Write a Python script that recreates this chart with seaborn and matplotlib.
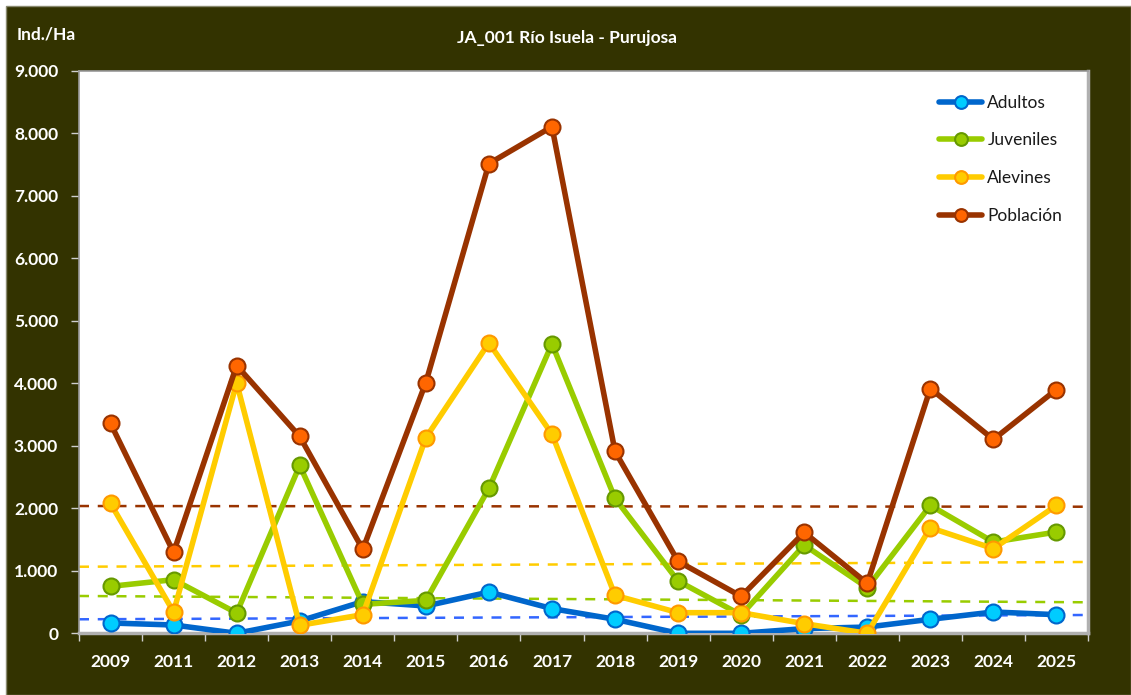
import numpy as np
import pandas as pd
import matplotlib
matplotlib.use("Agg")
import matplotlib.pyplot as plt
import seaborn as sns
from matplotlib.patches import Rectangle
from matplotlib.ticker import FixedLocator

# ── data ────────────────────────────────────────────────────────────────
years = ["2009", "2011", "2012", "2013", "2014", "2015", "2016", "2017",
         "2018", "2019", "2020", "2021", "2022", "2023", "2024", "2025"]

adultos   = [165, 133, 0, 197, 507, 437, 660, 395, 224, 0, 0, 75, 100, 224, 341, 298]
juveniles = [751, 858, 325, 2685, 463, 527, 2318, 4630, 2158, 836, 293, 1412, 730, 2046, 1460, 1620]
alevines  = [2078, 341, 4007, 128, 298, 3128, 4646, 3186, 607, 330, 330, 154, 0, 1689, 1354, 2046]
poblacion = [3357, 1295, 4284, 3149, 1343, 4012, 7513, 8104, 2909, 1151, 591, 1614, 799, 3916, 3101, 3900]

# dashed reference trends (value at left edge, value at right edge)
trend_adultos   = [224, 293]
trend_juveniles = [597, 496]
trend_alevines  = [1065, 1141]
trend_poblacion = [2036, 2025]

yticks = [0, 1000, 2000, 3000, 4000, 5000, 6000, 7000, 8000, 9000]

title = "JA_001 Río Isuela - Purujosa"
ylabel = "Ind./Ha"

BG = "#333300"

series = [
    # name, values, line, face, edge, trend, trend colour
    ("Adultos",   adultos,   "#0066CC", "#00CCFF", "#0066CC", trend_adultos,   "#3366FF"),
    ("Juveniles", juveniles, "#99CC00", "#99CC00", "#669900", trend_juveniles, "#99CC00"),
    ("Alevines",  alevines,  "#FFCC00", "#FFCC00", "#FF9900", trend_alevines,  "#FFCC00"),
    ("Población", poblacion, "#993300", "#FF6600", "#993300", trend_poblacion, "#993300"),
]

sns.set_style("white")
plt.rcParams["font.family"] = ["Lato", "DejaVu Sans"]

fig = plt.figure(figsize=(11.31, 6.95), dpi=100)
fig.patch.set_facecolor("white")
bg = Rectangle((6 / 1131, 0), 1 - 6 / 1131, 1 - 6 / 695,
               transform=fig.transFigure, facecolor=BG,
               edgecolor="#8a8a70", linewidth=1.0, zorder=-10)
fig.add_artist(bg)

ax = fig.add_axes([79 / 1131, 1 - 633.3 / 695, (1088 - 79) / 1131, (633.3 - 70.7) / 695])
ax.set_zorder(1)
ax.set_facecolor("white")

pos = np.arange(len(years))
edges = [pos[0] - 0.5, pos[-1] + 0.5]

# trend lines below the series
for name, vals, lc, fc, ec, trend, tc in series:
    ax.plot(edges, trend, color=tc, linestyle=(0, (4, 3.5)), linewidth=1.8, zorder=1)

for i, (name, vals, lc, fc, ec, trend, tc) in enumerate(series):
    df = pd.DataFrame({"x": pos, "y": vals})
    sns.lineplot(data=df, x="x", y="y", ax=ax, color=lc, linewidth=4,
                 marker="o", markersize=11.5, markerfacecolor=fc,
                 markeredgecolor=ec, markeredgewidth=1.5, label=name,
                 zorder=3 + i)

ax.set_xlim(edges)
ax.set_ylim(0, 9000)

ax.xaxis.set_major_locator(FixedLocator(pos))
ax.set_xticklabels(years)
ax.xaxis.set_minor_locator(FixedLocator(np.append(pos - 0.5, pos[-1] + 0.5)))
ax.tick_params(axis="x", which="major", length=0, pad=15, labelsize=12.5,
               labelcolor="white")
ax.tick_params(axis="x", which="minor", length=6, width=1, color="#cfcfcf",
               direction="out", bottom=True)
for lbl in ax.get_xticklabels():
    lbl.set_fontweight("bold")

ax.set_yticks(yticks)
ax.set_yticklabels([f"{v:,.0f}".replace(",", ".") for v in yticks])
ax.tick_params(axis="y", length=6, width=1, color="#cfcfcf", direction="out",
               left=True, pad=9, labelsize=12.5, labelcolor="white")
for lbl in ax.get_yticklabels():
    lbl.set_fontweight("bold")

ax.set_xlabel("")
ax.set_ylabel("")
for side in ["top", "left"]:
    ax.spines[side].set_color("#9a9a9a")
    ax.spines[side].set_linewidth(1.2)
for side in ["right", "bottom"]:
    ax.spines[side].set_color("#b0b0b0")
    ax.spines[side].set_linewidth(2.5)

fig.text(567 / 1131, 1 - 38 / 695, title, color="white", fontsize=12.5,
         fontweight="bold", ha="center", va="center")
fig.text(17 / 1131, 1 - 34 / 695, ylabel, color="white", fontsize=12.5,
         fontweight="bold", ha="left", va="center")

leg = ax.legend(loc="upper right", bbox_to_anchor=(0.99, 0.985), frameon=False,
                fontsize=12.5, labelspacing=1.25, handlelength=2.5,
                handletextpad=0.3, markerscale=0.8)
for t in leg.get_texts():
    t.set_color("#1a1a1a")

fig.savefig("out.png", dpi=100, facecolor=fig.get_facecolor())
